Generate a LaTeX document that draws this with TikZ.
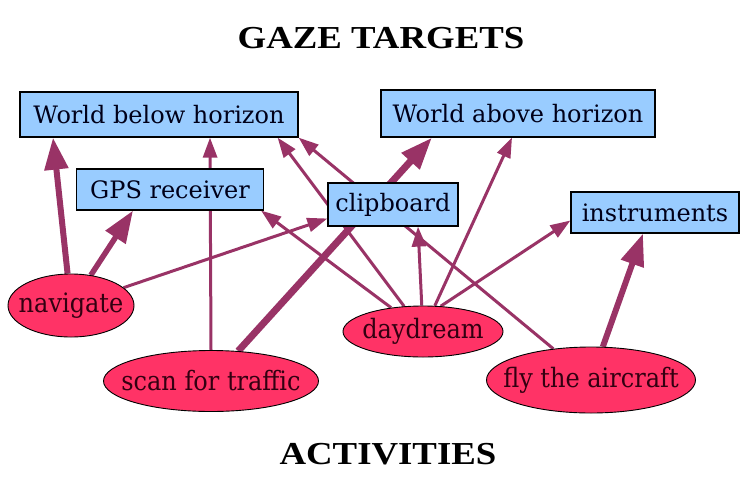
\documentclass[tikz,border=0pt]{standalone}
\usepackage{fontspec}
\setmainfont{DejaVu Serif}
\newfontfamily\condfont{DejaVu Serif Condensed}
\newfontfamily\titlefont[FakeStretch=1.15]{Liberation Serif}
\usepackage{xcolor}
\usepackage{tikz}
\usetikzlibrary{
    arrows.meta,
    shapes.geometric,
    backgrounds
}

\definecolor{targetblue}{HTML}{99CCFF}
\definecolor{activityred}{HTML}{FF3366}
\definecolor{edgeplum}{HTML}{993366}
\definecolor{activitytext}{HTML}{330011}

\begin{document}
\begin{tikzpicture}[
        x=1pt, y=-1pt,
        target/.style={
            rectangle,
            draw,
            line width=1.2pt,
            fill=targetblue,
            inner sep=0pt,
            text=black!90!blue,
            font=\fontsize{24}{28}\selectfont
        },
        activity/.style={
            ellipse,
            draw,
            line width=0.9pt,
            fill=activityred,
            inner xsep=-45pt,
            inner ysep=0pt,
            text=activitytext,
            font=\condfont\fontsize{26.7}{30}\selectfont
        },
        line/.style={
            draw=edgeplum,
            line width=3pt,
            -{Triangle[length=20pt, width=14pt]}
        },
        heavy/.style={
            line,
            line width=6pt,
            -{Triangle[length=32pt, width=23pt]}
        },
        heading/.style={
            font=\titlefont\bfseries\fontsize{32}{38}\selectfont
        }
    ]

    \useasboundingbox (0,0) rectangle (755,488);

    \node[heading] (gazetitle) at (381,38) {GAZE TARGETS};

    \node[target, minimum width=278pt, minimum height=45pt] (below) at (159,114.5)
        {World below horizon};
    \node[target, minimum width=274pt, minimum height=47pt] (above) at (518,113.5)
        {World above horizon};
    \node[target, minimum width=187pt, minimum height=41pt] (gps) at (170,189.5)
        {GPS receiver};
    \node[target, minimum width=130pt, minimum height=43pt] (clipboard) at (393,204.5)
        {clipboard};
    \node[target, minimum width=168pt, minimum height=41pt] (instruments) at (655,212.5)
        {instruments};

    \node[activity, minimum width=126pt, minimum height=63pt] (navigate) at (71,305.5)
        {navigate};
    \node[activity, minimum width=215pt, minimum height=61pt] (scan) at (211,381)
        {scan for traffic};
    \node[activity, minimum width=160pt, minimum height=51pt] (daydream) at (423,331.5)
        {daydream};
    \node[activity, minimum width=209pt, minimum height=66pt] (fly) at (591,380)
        {fly the aircraft};

    \node[heading] (acttitle) at (388,454) {ACTIVITIES};

    \begin{scope}[on background layer]
        \draw[heavy] (navigate) -- ([xshift=-106pt]below.south);
        \draw[heavy, line width=5.5pt] (navigate) -- ([xshift=-37pt]gps.south);
        \draw[line] (navigate) -- ([yshift=-14pt]clipboard.west);
        \draw[line] (scan.north) -- ([xshift=51pt]below.south);
        \draw[heavy, line width=7pt] (scan) -- ([xshift=-86pt]above.south);
        \draw[line] (daydream) -- ([xshift=-3pt]gps.south east);
        \draw[line] (daydream) -- ([xshift=-21pt]below.south east);
        \draw[line] (daydream) -- ([xshift=25pt]clipboard.south);
        \draw[line] (daydream) -- ([xshift=-6pt]above.south);
        \draw[line] (daydream.55) -- ([yshift=-8pt]instruments.west);
        \draw[line] (fly) -- (below.south east);
        \draw[heavy] (fly) -- ([xshift=-12pt]instruments.south);
    \end{scope}

\end{tikzpicture}
\end{document}
